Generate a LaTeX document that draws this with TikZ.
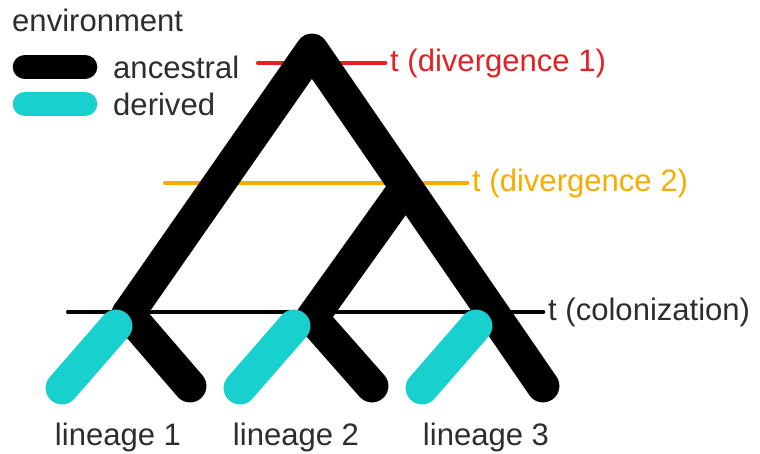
\documentclass[tikz,border=0pt]{standalone}
\usepackage{fontspec}
\setmainfont{Liberation Sans}
\definecolor{derivedcyan}{RGB}{24,208,206}
\definecolor{divred}{RGB}{228,32,36}
\definecolor{divorange}{RGB}{248,172,0}
\definecolor{textgray}{RGB}{45,45,45}

\begin{document}
\begin{tikzpicture}[x=0.03cm,y=-0.03cm,
  ancestral/.style={line width=28pt,line cap=round,line join=round,black},
  derived/.style={line width=28pt,line cap=round,derivedcyan},
  legendbar/.style={line width=21pt,line cap=round},
  timeline/.style={line width=3.4pt,line cap=round},
  txt/.style={font=\fontsize{26.5}{31}\selectfont,text=textgray,inner sep=0pt}]
  \useasboundingbox (0,0) rectangle (760,454);

  % legend
  \node [txt,anchor=west] (env) at (12,20) {environment};
  \node [txt,anchor=west] (anc) at (113,67) {ancestral};
  \node [txt,anchor=west] (der) at (113,104) {derived};
  \coordinate (ancA) at (25,67);  \coordinate (ancB) at (85,67);
  \coordinate (derA) at (25,104); \coordinate (derB) at (85,104);
  \draw [legendbar,black] (ancA) -- (ancB);
  \draw [legendbar,derivedcyan] (derA) -- (derB);

  % time lines
  \node [txt,anchor=west,text=divred] (tdiv1) at (390,63) {t (divergence 1)};
  \node [txt,anchor=west,text=divorange] (tdiv2) at (472,183) {t (divergence 2)};
  \node [txt,anchor=west] (tcol) at (548,312) {t (colonization)};
  \coordinate (div1start) at (258,63);
  \coordinate (div2start) at (165,183);
  \coordinate (colstart) at (68,312);
  \draw [timeline,divred] (div1start) -- ([xshift=-4]tdiv1.west);
  \draw [timeline,divorange] (div2start) -- ([xshift=-4]tdiv2.west);
  \draw [timeline,black] (colstart) -- ([xshift=-4]tcol.west);

  % tree
  \coordinate (root)  at (312,50);
  \coordinate (splitA) at (128,314);
  \coordinate (splitB) at (405,188);
  \coordinate (splitC) at (312,318);
  \coordinate (tipA) at (190,386);
  \coordinate (tipB) at (372,386);
  \coordinate (tipC) at (543,386);
  \draw [ancestral] (splitA) -- (root) -- (tipC);
  \draw [ancestral] (splitB) -- (splitC) -- (tipB);
  \draw [ancestral] (splitA) -- (tipA);

  % derived lineages
  \coordinate (derTopA) at (116,326); \coordinate (derEndA) at (62,388);
  \coordinate (derTopB) at (294,326); \coordinate (derEndB) at (240,388);
  \coordinate (derTopC) at (476,326); \coordinate (derEndC) at (422,388);
  \draw [derived] (derTopA) -- (derEndA);
  \draw [derived] (derTopB) -- (derEndB);
  \draw [derived] (derTopC) -- (derEndC);

  % lineage labels
  \node [txt] (lin1) at (118,437) {lineage 1};
  \node [txt] (lin2) at (296,437) {lineage 2};
  \node [txt] (lin3) at (486,437) {lineage 3};
\end{tikzpicture}
\end{document}
